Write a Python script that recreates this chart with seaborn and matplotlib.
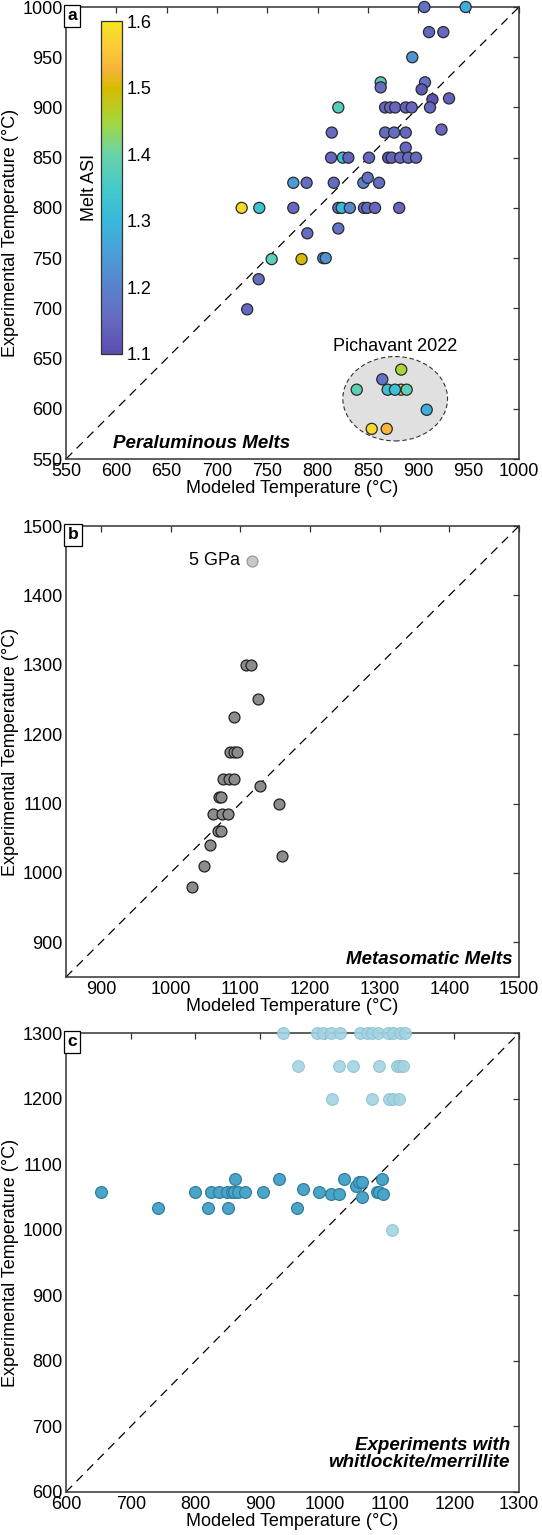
import numpy as np
import pandas as pd
import matplotlib
matplotlib.use('Agg')
import matplotlib.pyplot as plt
import seaborn as sns
from matplotlib.colors import LinearSegmentedColormap, Normalize
from matplotlib.patches import Ellipse
import matplotlib.cm as cm
from matplotlib.ticker import MultipleLocator

# ---------------- data ----------------
# Panel a: peraluminous melts
peral_model = [906, 947, 910.6, 924.8, 894, 862.6, 862.6, 906.6, 903.3, 914, 930.5,
               820.5, 867, 872, 877, 887.5, 893.4, 911.6, 923, 814, 867, 876, 887.5,
               887.5, 813.3, 825, 830.5, 851, 870, 873.5, 882, 890, 897.7,
               775.8, 789, 816, 845.4, 849.7, 861,
               724.5, 742, 775.8, 820.5, 823.9, 832, 846, 849.3, 857, 881,
               820.5, 789.7, 754.3, 784, 805.6, 808, 741.4, 730]
peral_exp = [1000, 1000, 975, 975, 950, 925, 920, 925, 918, 908, 909,
             900, 900, 900, 900, 900, 900, 900, 878, 875, 875, 875, 875,
             860, 850, 850, 850, 850, 850, 850, 850, 850, 850,
             825, 825, 825, 825, 830, 825,
             800, 800, 800, 800, 800, 800, 800, 800, 800, 800,
             779.5, 774.7, 749, 749, 750, 750, 729, 699]
peral_asi = [1.17, 1.28, 1.15, 1.15, 1.23, 1.37, 1.16, 1.17, 1.12, 1.11, 1.14,
             1.37, 1.15, 1.15, 1.15, 1.14, 1.15, 1.15, 1.15, 1.16, 1.16, 1.16, 1.15,
             1.15, 1.15, 1.32, 1.14, 1.15, 1.12, 1.14, 1.15, 1.15, 1.15,
             1.25, 1.16, 1.16, 1.20, 1.17, 1.16,
             1.58, 1.33, 1.15, 1.17, 1.30, 1.21, 1.16, 1.15, 1.15, 1.15,
             1.17, 1.16, 1.38, 1.50, 1.22, 1.23, 1.16, 1.15]
# Pichavant 2022 group
pich_model = [883, 864.2, 838.8, 882.8, 869.5, 876.8, 888.4, 908.3, 853.7, 868.6]
pich_exp = [639, 629.3, 619, 619, 619, 619, 619, 599, 580, 580]
pich_asi = [1.45, 1.17, 1.38, 1.54, 1.32, 1.32, 1.38, 1.28, 1.58, 1.53]

# Panel b: metasomatic melts
meta_model = [1108, 1115.7, 1126, 1090.4, 1085.7, 1090.4, 1096, 1075.3, 1083.3, 1090.4,
              1128.6, 1069, 1072.9, 1155.7, 1060.4, 1073.9, 1081.9, 1067.6, 1072.4,
              1057, 1160, 1048.6, 1031]
meta_exp = [1300, 1300, 1250, 1225, 1175, 1175, 1175, 1135, 1135, 1135,
            1125, 1110, 1110, 1100, 1085, 1085, 1085, 1060, 1060,
            1040, 1025, 1010, 980]
gpa5_model = [1116.7]
gpa5_exp = [1450]

# Panel c: experiments with whitlockite/merrillite
wm_model = [654.6, 742.9, 799.6, 824.3, 836.7, 848.1, 855.9, 859.4, 866.1, 876.9,
            819.7, 850.6, 861, 903.9, 929, 956.5, 966.7, 991, 1009, 1022.4,
            1029, 1048.8, 1053.4, 1057, 1057, 1081.3, 1084.4, 1090.6, 1089]
wm_exp = [1057, 1033, 1057, 1057, 1057, 1057, 1057, 1057, 1057, 1057,
          1033, 1033, 1077, 1057, 1077, 1033, 1062, 1057, 1055, 1055,
          1077, 1067, 1073, 1073, 1050, 1057, 1057, 1055, 1077]
wm_light_model = [935.8, 987.5, 997.7, 1009, 1023.5, 1054.5, 1064.8, 1073.5, 1082.8,
                  1098.3, 1106, 1116.4, 1124,
                  958, 1021.5, 1044, 1084.4, 1111.3, 1116.4, 1120.6,
                  1011.6, 1073.5, 1099.8, 1106, 1114.9,
                  1104.5]
wm_light_exp = [1300] * 13 + [1250] * 7 + [1200] * 5 + [1000]

asi_ticks = [1.1, 1.2, 1.3, 1.4, 1.5, 1.6]

# ---------------- style ----------------
sns.set_theme(style='white')
plt.rcParams['font.family'] = ['Liberation Sans', 'DejaVu Sans']
plt.rcParams['text.color'] = 'black'
plt.rcParams['axes.labelcolor'] = 'black'
plt.rcParams['xtick.color'] = 'black'
plt.rcParams['ytick.color'] = 'black'
FS = 13
NOTE_FS = 13.5
SPINE = '#333333'

cmap = LinearSegmentedColormap.from_list('parula_like', [
    (0.00, '#5B4DB0'), (0.10, '#6668C0'), (0.20, '#5A82CC'), (0.30, '#4A9ED6'),
    (0.40, '#38B8DC'), (0.50, '#45CAC8'), (0.60, '#6AD4A8'), (0.70, '#A5D63A'),
    (0.80, '#D7BB00'), (0.86, '#F6B43C'), (0.92, '#FBCB35'), (1.00, '#F5E51E')])
norm = Normalize(1.1, 1.6)

W, H = 542, 1535
fig = plt.figure(figsize=(W / 100, H / 100), dpi=100)


def box(left, top, w, h):
    return [left / W, 1 - (top + h) / H, w / W, h / H]


axa = fig.add_axes(box(66, 7, 453, 452))
axb = fig.add_axes(box(66, 526, 453, 451))
axc = fig.add_axes(box(66, 1033, 453, 459))


def style_axis(ax, lo, hi, xticks, yticks):
    ax.set_xlim(lo, hi)
    ax.set_ylim(lo, hi)
    ax.set_xticks(xticks)
    ax.set_yticks(yticks)
    ax.tick_params(direction='in', length=4.5, width=0.9, color=SPINE,
                   top=True, right=True, labelsize=FS, labelcolor='black')
    ax.tick_params(axis='x', pad=3)
    ax.tick_params(axis='y', pad=2.5)
    for s in ax.spines.values():
        s.set_color(SPINE)
        s.set_linewidth(1.1)
        s.set_visible(True)
    ax.plot([lo, hi], [lo, hi], color='black', lw=0.9, ls=(0, (7, 5)), zorder=1)
    ax.grid(False)
    ax.set_facecolor('white')


def labels(ax):
    ax.set_xlabel('Modeled Temperature (°C)', fontsize=FS, labelpad=0)
    ax.set_ylabel('Experimental Temperature (°C)', fontsize=FS, labelpad=2)


def panel_label(ax, t):
    ax.text(0.003, 0.997, t, transform=ax.transAxes, ha='left', va='top',
            fontsize=12.5, fontweight='bold',
            bbox=dict(boxstyle='square,pad=0.2', fc='white', ec='black', lw=0.9),
            zorder=10)


# ---- panel a ----
style_axis(axa, 550, 1000, np.arange(550, 1001, 50), np.arange(550, 1001, 50))
ell = Ellipse((877, 610), 104, 84, fc='#E0E0E0', ec='#333333', lw=0.8,
              ls=(0, (4, 2.5)), zorder=1.5)
axa.add_patch(ell)
axa.text(877, 654, 'Pichavant 2022', ha='center', va='bottom', fontsize=FS)

df_a = pd.DataFrame({'model': peral_model + pich_model,
                     'exp': peral_exp + pich_exp,
                     'asi': peral_asi + pich_asi})
sns.scatterplot(data=df_a, x='model', y='exp', hue='asi', palette=cmap,
                hue_norm=norm, s=64, edgecolor='#2a2a2a', linewidth=0.9,
                legend=False, ax=axa, zorder=3, clip_on=False)
labels(axa)
axa.text(597, 557, 'Peraluminous Melts', fontsize=NOTE_FS, fontweight='bold',
         style='italic', ha='left', va='bottom')
panel_label(axa, 'a')

cax = fig.add_axes(box(101, 21, 21, 333))
cb = fig.colorbar(cm.ScalarMappable(norm=norm, cmap=cmap), cax=cax)
cb.set_ticks(asi_ticks)
cb.ax.yaxis.set_minor_locator(MultipleLocator(0.05))
cb.ax.tick_params(which='both', direction='in', length=3.5, width=0.8,
                  color=SPINE, labelsize=FS, pad=3, right=True, left=False)
cb.outline.set_edgecolor(SPINE)
cb.outline.set_linewidth(0.9)
cb.ax.yaxis.set_label_position('left')
cb.ax.set_ylabel('Melt ASI', fontsize=FS, labelpad=2)

# ---- panel b ----
style_axis(axb, 850, 1500, np.arange(900, 1501, 100), np.arange(900, 1501, 100))
df_b = pd.DataFrame({'model': meta_model, 'exp': meta_exp})
sns.scatterplot(data=df_b, x='model', y='exp', color='#8C8C8C', s=62,
                edgecolor='#222222', linewidth=0.9, legend=False, ax=axb, zorder=3)
df_b5 = pd.DataFrame({'model': gpa5_model, 'exp': gpa5_exp})
sns.scatterplot(data=df_b5, x='model', y='exp', color='#C8C8C8', s=62,
                edgecolor='#9a9a9a', linewidth=0.9, legend=False, ax=axb, zorder=3)
labels(axb)
axb.text(1100, 1450, '5 GPa', ha='right', va='center', fontsize=FS)
axb.text(1490, 863, 'Metasomatic Melts', fontsize=NOTE_FS, fontweight='bold',
         style='italic', ha='right', va='bottom')
panel_label(axb, 'b')

# ---- panel c ----
style_axis(axc, 600, 1300, np.arange(600, 1301, 100), np.arange(600, 1301, 100))
df_cl = pd.DataFrame({'model': wm_light_model, 'exp': wm_light_exp})
sns.scatterplot(data=df_cl, x='model', y='exp', color='#A3D3E2', s=72,
                edgecolor='#8EC3D4', linewidth=0.8, alpha=0.9, legend=False,
                ax=axc, zorder=3, clip_on=False)
df_c = pd.DataFrame({'model': wm_model, 'exp': wm_exp})
sns.scatterplot(data=df_c, x='model', y='exp', color='#4BA5C8', s=72,
                edgecolor='#2F7EA0', linewidth=0.9, legend=False, ax=axc, zorder=4)
labels(axc)
axc.text(1286, 632, 'Experiments with\nwhitlockite/merrillite', fontsize=NOTE_FS,
         fontweight='bold', style='italic', ha='right', va='bottom',
         linespacing=1.0)
panel_label(axc, 'c')

fig.savefig('out.png', dpi=100)
